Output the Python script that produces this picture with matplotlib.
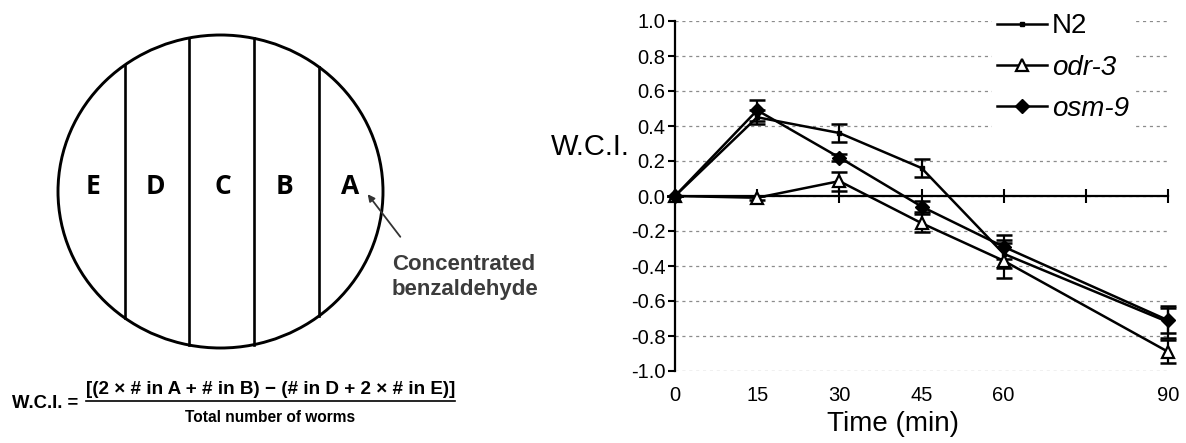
import matplotlib
matplotlib.use("Agg")
import matplotlib.pyplot as plt
from matplotlib.patches import Ellipse
import numpy as np

# Chemotaxis data (W.C.I. over time)
time = [0, 15, 30, 45, 60, 90]
n2 = [0.0, 0.45, 0.36, 0.16, -0.33, -0.72]
n2_err = [0.0, 0.04, 0.05, 0.05, 0.08, 0.09]
odr3 = [0.0, -0.01, 0.085, -0.155, -0.37, -0.89]
odr3_err = [0.0, 0.01, 0.055, 0.05, 0.10, 0.065]
osm9 = [0.0, 0.49, 0.22, -0.06, -0.29, -0.71]
osm9_err = [0.0, 0.06, 0.02, 0.03, 0.07, 0.07]

xticks = [0, 15, 30, 45, 60, 75, 90]
xtick_labels = ["0", "15", "30", "45", "60", "", "90"]
yticks = np.round(np.arange(-1.0, 1.01, 0.2), 1)

# plate diagram
zones = ["E", "D", "C", "B", "A"]
zone_x = [93, 155, 223, 285, 350]
divider_x = [125, 189, 254, 319]

W, H = 1186, 443
fig = plt.figure(figsize=(W / 100, H / 100), dpi=100)
plt.rcParams["font.family"] = ["Liberation Sans", "DejaVu Sans"]
renderer = fig.canvas.get_renderer()


def fit_width(t, target):
    # shrink/grow a text so it spans the given pixel width
    w = t.get_window_extent(renderer=renderer).width
    t.set_fontsize(t.get_fontsize() * target / w)


# left: pixel-space drawing
ax0 = fig.add_axes([0, 0, 1, 1])
ax0.set_xlim(0, W)
ax0.set_ylim(H, 0)
ax0.axis("off")

cx, cy, rx, ry = 220.5, 191.5, 162.5, 156.5
ax0.add_patch(Ellipse((cx, cy), 2 * rx, 2 * ry, fill=False, lw=2.1, ec="black"))
for x in divider_x:
    dy = ry * np.sqrt(1 - ((x - cx) / rx) ** 2)
    ax0.plot([x, x], [cy - dy, cy + dy], color="black", lw=1.9)
for lab, x in zip(zones, zone_x):
    ax0.text(x, 186, lab, ha="center", va="center", fontsize=19,
             fontweight="bold", family=["Open Sans", "DejaVu Sans"])

ax0.annotate("", xy=(366, 192), xytext=(402, 239),
             arrowprops=dict(arrowstyle="-|>", color="#333333", lw=1.3,
                             mutation_scale=10))
ax0.text(392, 264, "Concentrated", ha="left", va="center", fontsize=16,
         fontweight="bold", color="#3c3c3c")
ax0.text(392, 290, "benzaldehyde", ha="left", va="center", fontsize=16,
         fontweight="bold", color="#3c3c3c")

t = ax0.text(12, 403, "W.C.I. =", ha="left", va="center", fontsize=12,
             fontweight="bold")
fit_width(t, 66)
t = ax0.text(271, 390, "[(2 × # in A + # in B) − (# in D + 2 × # in E)]",
             ha="center", va="center", fontsize=12, fontweight="bold")
fit_width(t, 368)
ax0.plot([86, 455], [401, 401], color="black", lw=1.2)
t = ax0.text(270, 417, "Total number of worms", ha="center", va="center",
             fontsize=12, fontweight="bold")
fit_width(t, 170)

# right: chart
ax = fig.add_axes([675 / W, 72 / H, 493 / W, 350 / H])
ax.set_xlim(0, 90)
ax.set_ylim(-1.0, 1.0)

ax.set_yticks(yticks)
ax.set_yticklabels([f"{v + 0.0:.1f}" if v != 0 else "0.0" for v in yticks],
                   fontsize=14.5)
ax.yaxis.grid(True, linestyle=(0, (2.5, 3)), color="#8c8c8c", lw=0.9)
ax.set_axisbelow(True)
ax.tick_params(axis="y", direction="out", length=5, width=1.5, pad=2)

for s in ["top", "right"]:
    ax.spines[s].set_visible(False)
ax.spines["left"].set_linewidth(1.6)
ax.spines["bottom"].set_position(("data", 0))
ax.spines["bottom"].set_linewidth(1.6)
ax.set_xticks(xticks)
ax.tick_params(axis="x", direction="inout", length=10, width=1.5,
               labelbottom=False)

sec = ax.secondary_xaxis(0)
sec.spines["bottom"].set_visible(False)
sec.set_xticks(xticks)
sec.set_xticklabels(xtick_labels, fontsize=14.5)
sec.tick_params(length=0, pad=11)

lw = 1.8
for y, e in [(n2, n2_err), (odr3, odr3_err), (osm9, osm9_err)]:
    ax.errorbar(time, y, yerr=e, fmt="none", ecolor="black", elinewidth=1.6,
                capsize=5.5, capthick=1.8, clip_on=False, zorder=3)

l1, = ax.plot(time, n2, color="black", lw=lw, marker="s", ms=3,
              clip_on=False, zorder=4, label="N2")
l2, = ax.plot(time, odr3, color="black", lw=lw, marker="^", ms=9,
              mfc="white", mec="black", mew=1.6, clip_on=False, zorder=5,
              label="odr-3")
l3, = ax.plot(time, osm9, color="black", lw=lw, marker="D", ms=7.5,
              mfc="black", mec="black", clip_on=False, zorder=6,
              label="osm-9")

leg = fig.legend(handles=[l1, l2, l3], loc="upper left",
                 bbox_to_anchor=(978 / W, 1 + 6 / H), fontsize=20,
                 frameon=True, facecolor="white", edgecolor="none",
                 framealpha=1, fancybox=False, handlelength=1.8,
                 handletextpad=0.15, labelspacing=0.55, borderpad=0.2)
leg.get_texts()[1].set_style("italic")
leg.get_texts()[2].set_style("italic")

fig.text(590 / W, 1 - 147 / H, "W.C.I.", ha="center", va="center",
         fontsize=21)
fig.text(893 / W, 1 - 424 / H, "Time (min)", ha="center", va="center",
         fontsize=20)

fig.savefig("out.png", dpi=100)
